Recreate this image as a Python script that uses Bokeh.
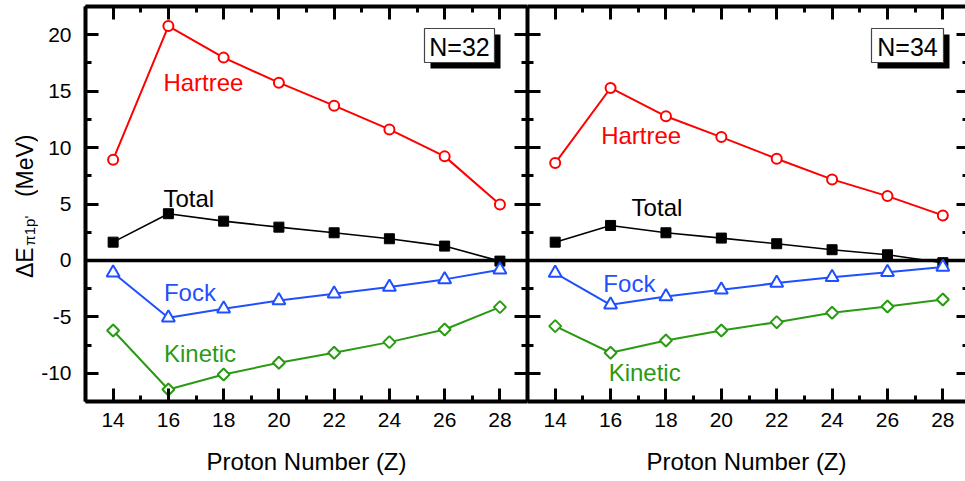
import math
from bokeh.plotting import figure
from bokeh.layouts import row
from bokeh.models import (Range1d, LinearAxis, FixedTicker, Span, Label,
                          BoxAnnotation, CustomJSTickFormatter, ColumnDataSource)
from bokeh.embed import file_html
from bokeh.resources import INLINE

# ---------------- data ----------------
Z = [14, 16, 18, 20, 22, 24, 26, 28]

hartree_32 = [8.93, 20.77, 17.97, 15.75, 13.71, 11.61, 9.22, 4.96]
total_32 = [1.62, 4.14, 3.48, 2.95, 2.45, 1.92, 1.27, -0.06]
fock_32 = [-1.09, -5.08, -4.28, -3.55, -2.95, -2.36, -1.68, -0.83]
kinetic_32 = [-6.21, -11.44, -10.11, -9.07, -8.18, -7.24, -6.12, -4.14]

hartree_34 = [8.63, 15.28, 12.77, 10.93, 9.01, 7.18, 5.70, 3.99]
total_34 = [1.62, 3.10, 2.45, 1.98, 1.48, 0.95, 0.50, -0.20]
fock_34 = [-1.12, -3.93, -3.19, -2.60, -2.01, -1.48, -1.04, -0.59]
kinetic_34 = [-5.82, -8.18, -7.09, -6.21, -5.47, -4.64, -4.08, -3.46]

x_major = [14, 16, 18, 20, 22, 24, 26, 28]
x_minor = [13, 15, 17, 19, 21, 23, 25, 27, 29]
y_major = [-10, -5, 0, 5, 10, 15, 20]
y_minor = [-12.5, -7.5, -2.5, 2.5, 7.5, 12.5, 17.5, 22.5]

series_names = ["Hartree", "Total", "Fock", "Kinetic"]
panel_titles = ["N=32", "N=34"]
x_title = "Proton Number (Z)"
y_title_main = "\u0394E"
y_title_sub = "\u03c01p'"
y_title_unit = "(MeV)"

# ---------------- style ----------------
FONT = "Liberation Sans"
RED = "#ff0000"
BLUE = "#1f4fff"
GREEN = "#2a9a14"
BLACK = "#000000"

X_START = 13.0
PX_PER_X = 27.69
H = 481
FRAME_TOP = 6
FRAME_BOTTOM_BORDER = 80
LABEL_W = 38
FRAME_LEFT = 84
LEFT_W = 527 - LABEL_W
RIGHT_W = 965 - 527
NAME_DY = 0.71  # baseline correction for series names (data units)

PLAIN = CustomJSTickFormatter(code="return String(tick)")


def style_axis(ax, ticks, minor, labels, show_line=True, tick_len=13, minor_len=6):
    ax.ticker = FixedTicker(ticks=ticks, minor_ticks=minor)
    ax.axis_line_width = 4
    ax.axis_line_color = BLACK if show_line else None
    ax.major_tick_in = tick_len
    ax.major_tick_out = 0
    ax.minor_tick_in = minor_len
    ax.minor_tick_out = 0
    ax.major_tick_line_width = 3
    ax.minor_tick_line_width = 3
    ax.major_tick_line_color = BLACK
    ax.minor_tick_line_color = BLACK
    if labels:
        ax.formatter = PLAIN
        ax.major_label_text_font = FONT
        ax.major_label_text_font_size = "21px"
        ax.major_label_text_color = BLACK
    else:
        ax.formatter = CustomJSTickFormatter(code="return ''")
        ax.major_label_text_font_size = "0px"
        ax.major_label_standoff = 0
        ax.axis_label = None


def make_fig(width, min_left, x_end, left_labels, right_line=True):
    p = figure(width=width, height=H,
               x_range=Range1d(X_START, x_end), y_range=Range1d(-12.5, 22.5),
               output_backend="svg", toolbar_location=None,
               x_axis_location=None, y_axis_location=None,
               min_border_left=min_left, min_border_right=0,
               min_border_top=FRAME_TOP, min_border_bottom=FRAME_BOTTOM_BORDER,
               background_fill_color="white", border_fill_color="white")
    p.outline_line_color = None
    for g in p.grid:
        g.visible = False

    below = LinearAxis()
    style_axis(below, x_major, x_minor, True)
    below.major_label_standoff = 11
    below.axis_label = x_title
    below.axis_label_text_font = FONT
    below.axis_label_text_font_size = "24px"
    below.axis_label_text_font_style = "normal"
    below.axis_label_text_color = BLACK
    below.axis_label_standoff = 18
    p.add_layout(below, "below")

    above = LinearAxis()
    style_axis(above, x_major, x_minor, False)
    p.add_layout(above, "above")

    left = LinearAxis()
    style_axis(left, y_major, y_minor, left_labels)
    if left_labels:
        left.major_label_standoff = 14
    p.add_layout(left, "left")

    right = LinearAxis()
    if right_line:
        style_axis(right, y_major, y_minor, False)
    else:
        style_axis(right, y_major, y_minor, False, show_line=False, tick_len=9, minor_len=3)
    p.add_layout(right, "right")

    p.add_layout(Span(location=0, dimension="width", line_color=BLACK,
                      line_width=3.5, level="underlay"))
    return p


def add_series(p, src, hcol, tcol, fcol, kcol):
    p.line("z", hcol, source=src, line_color=RED, line_width=2)
    p.scatter("z", hcol, source=src, marker="circle", size=10,
              line_color=RED, fill_color="white", line_width=2)
    p.line("z", tcol, source=src, line_color=BLACK, line_width=1.6)
    p.scatter("z", tcol, source=src, marker="square", size=10,
              line_color=BLACK, fill_color=BLACK, line_width=1)
    p.line("z", fcol, source=src, line_color=BLUE, line_width=2)
    p.scatter("z", fcol, source=src, marker="triangle", size=13,
              line_color=BLUE, fill_color="white", line_width=2)
    p.line("z", kcol, source=src, line_color=GREEN, line_width=2)
    p.scatter("z", kcol, source=src, marker="square", angle=math.pi / 4, size=8.5,
              line_color=GREEN, fill_color="white", line_width=2)


def add_names(p, positions):
    colors = [RED, BLACK, BLUE, GREEN]
    for name, col, (x, y) in zip(series_names, colors, positions):
        p.add_layout(Label(x=x, y=y + NAME_DY, text=name, text_color=col, text_font=FONT,
                           text_font_size="24px", text_baseline="alphabetic",
                           text_align="left"))


def add_box(p, text, left, right, top, bottom):
    p.add_layout(BoxAnnotation(left=left + 6, right=right + 6, top=top - 6, bottom=bottom - 6,
                               left_units="screen", right_units="screen",
                               top_units="screen", bottom_units="screen",
                               fill_color=BLACK, fill_alpha=1.0, line_color=None))
    p.add_layout(BoxAnnotation(left=left, right=right, top=top, bottom=bottom,
                               left_units="screen", right_units="screen",
                               top_units="screen", bottom_units="screen",
                               fill_color="white", fill_alpha=1.0,
                               line_color="#444444", line_width=1.2, line_alpha=1.0))
    p.add_layout(Label(x=(left + right) / 2, y=(top + bottom) / 2 - 1, text=text,
                       x_units="screen", y_units="screen",
                       text_font=FONT, text_font_size="25px", text_color=BLACK,
                       text_align="center", text_baseline="middle"))


src = ColumnDataSource(dict(z=Z, h32=hartree_32, t32=total_32, f32=fock_32, k32=kinetic_32,
                            h34=hartree_34, t34=total_34, f34=fock_34, k34=kinetic_34))

# y-axis title strip (rotated text with subscript); coordinates are pixels
pl = figure(width=LABEL_W, height=H, x_range=Range1d(0, LABEL_W), y_range=Range1d(0, H),
            output_backend="svg", toolbar_location=None,
            x_axis_location=None, y_axis_location=None, min_border=0,
            background_fill_color="white", border_fill_color="white")
pl.outline_line_color = None
for g in pl.grid:
    g.visible = False
pl.add_layout(Label(x=24, y=169, text=y_title_main, angle=math.pi / 2,
                    text_font=FONT, text_font_size="23px", text_color=BLACK,
                    text_baseline="middle", text_align="center"))
pl.add_layout(Label(x=29, y=208, text=y_title_sub, angle=math.pi / 2,
                    text_font=FONT, text_font_size="15px", text_color=BLACK,
                    text_baseline="middle", text_align="center"))
pl.add_layout(Label(x=24, y=287, text=y_title_unit, angle=math.pi / 2,
                    text_font=FONT, text_font_size="23px", text_color=BLACK,
                    text_baseline="middle", text_align="center"))

# left panel (N=32)
left_frame_w = 527 - FRAME_LEFT
p1 = make_fig(LEFT_W, FRAME_LEFT - LABEL_W, X_START + left_frame_w / PX_PER_X, True)
add_series(p1, src, "h32", "t32", "f32", "k32")
add_names(p1, [(15.82, 15.02), (15.82, 4.81), (15.84, -3.58), (15.84, -8.98)])
add_box(p1, panel_titles[0], 339, 409, 373, 339)

# right panel (N=34)
p2 = make_fig(RIGHT_W, 0, X_START + RIGHT_W / PX_PER_X, False, right_line=False)
add_series(p2, src, "h34", "t34", "f34", "k34")
add_names(p2, [(15.66, 10.39), (16.76, 4.01), (15.74, -2.72), (15.93, -10.60)])
add_box(p2, panel_titles[1], 344, 416, 373, 339)

layout = row(pl, p1, p2, spacing=0)
open("out.html", "w").write(file_html(layout, INLINE))
